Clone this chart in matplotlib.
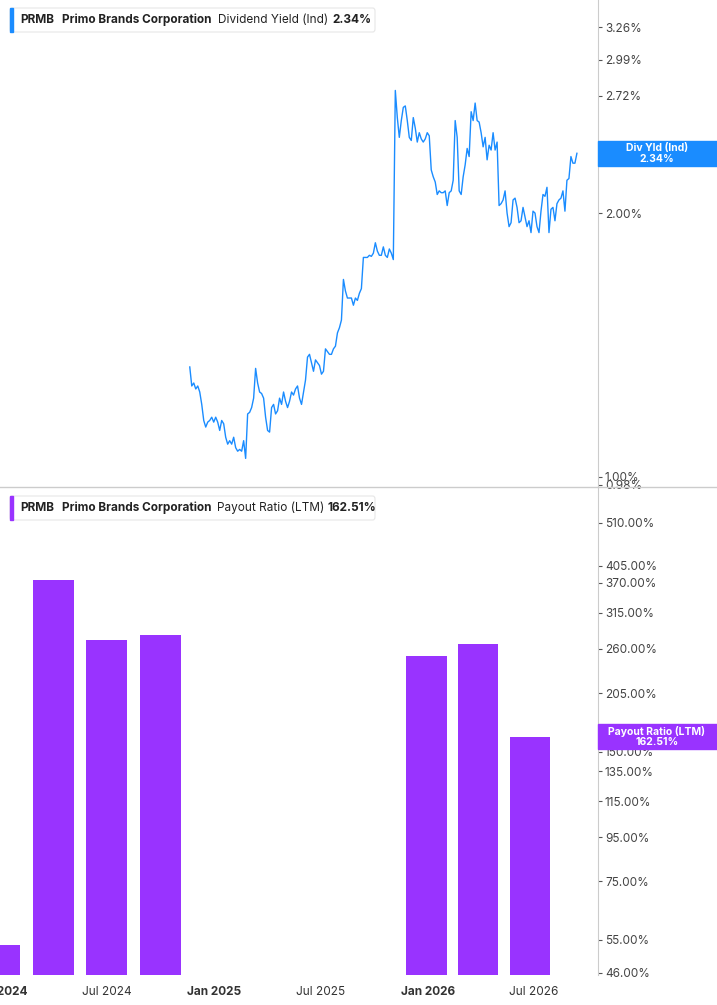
import matplotlib
matplotlib.use("Agg")
import matplotlib.pyplot as plt
import matplotlib.ticker as mticker
import pandas as pd

plt.rcParams['font.family'] = ['Inter', 'DejaVu Sans']

yield_start = "2024-11-20"
yield_end = "2026-09-12"
yield_vals = [1.335,1.27,1.28,1.26,1.27,1.25,1.21,1.16,1.14,1.155,1.16,1.17,1.155,1.17,1.155,1.13,1.16,1.15,
 1.11,1.09,1.10,1.09,1.11,1.08,1.07,1.075,1.07,1.10,1.05,1.18,1.185,1.20,1.23,1.33,1.28,1.25,1.245,1.23,
 1.17,1.13,1.125,1.20,1.21,1.18,1.19,1.23,1.21,1.25,1.22,1.20,1.22,1.25,1.24,1.26,1.27,1.23,1.21,1.25,
 1.29,1.37,1.38,1.35,1.32,1.36,1.35,1.34,1.31,1.32,1.40,1.39,1.38,1.38,1.40,1.41,1.46,1.48,1.51,1.68,
 1.63,1.60,1.60,1.60,1.57,1.60,1.59,1.62,1.64,1.78,1.78,1.78,1.79,1.785,1.80,1.85,1.81,1.79,1.79,1.83,
 1.79,1.78,1.82,1.80,1.77,
 2.76,2.57,2.44,2.55,2.64,2.65,2.55,2.44,2.42,2.57,2.50,2.41,2.47,2.43,2.41,2.43,2.47,2.45,2.24,2.20,
 2.17,2.10,2.12,2.11,2.11,2.12,2.04,2.11,2.12,2.18,2.55,2.44,2.12,2.10,2.20,2.27,2.37,2.32,2.61,2.55,
 2.67,2.55,2.54,2.47,2.38,2.44,2.30,2.39,2.36,2.47,2.36,2.41,2.04,2.05,2.07,2.12,2.00,1.93,1.95,2.07,
 2.08,2.03,1.95,1.96,2.03,1.98,1.93,1.96,1.90,2.01,2.00,1.93,1.90,2.01,2.10,2.09,2.14,1.90,2.02,2.03,
 1.96,2.05,2.07,2.08,2.12,2.01,2.18,2.19,2.32,2.28,2.28,2.34]

bar_dates = ["2023-12-31", "2024-04-01", "2024-07-01", "2024-10-01", "2025-12-29", "2026-03-27", "2026-06-24"]
bar_vals = [53.4, 376, 273, 280, 250, 266, 162.51]

top_ticks = [0.98, 1.00, 2.00, 2.72, 2.99, 3.26]
bot_ticks = [46, 55, 75, 95, 115, 135, 150, 205, 260, 315, 370, 405, 510]
x_ticks = ["2024-01-01", "2024-07-01", "2025-01-01", "2025-07-01", "2026-01-01", "2026-07-01"]
x_labels = ["Jan 2024", "Jul 2024", "Jan 2025", "Jul 2025", "Jan 2026", "Jul 2026"]

BLUE = "#1a8cff"
PURPLE = "#9933ff"
W, H = 717, 1005
fig = plt.figure(figsize=(W/100, H/100), dpi=100)
axR = 598/W
ax1 = fig.add_axes([0, 1-487/H, axR, 487/H])
ax2 = fig.add_axes([0, 1-975/H, axR, (975-487)/H])

xmin, xmax = pd.Timestamp("2024-01-01"), pd.Timestamp("2026-10-18")
dates = pd.date_range(yield_start, yield_end, periods=len(yield_vals))
ax1.plot(dates, yield_vals, color=BLUE, lw=1)
ax1.set_yscale('log')
ax1.set_ylim(0.974, 3.50)
ax2.bar(pd.to_datetime(bar_dates), bar_vals, width=69, color=PURPLE, align='center', zorder=2)
ax2.set_yscale('log')
ax2.set_ylim(45.5, 617)

for ax, ticks in ((ax1, top_ticks), (ax2, bot_ticks)):
    ax.set_xlim(xmin, xmax)
    ax.yaxis.tick_right()
    ax.yaxis.set_major_locator(mticker.FixedLocator(ticks))
    ax.yaxis.set_minor_locator(mticker.NullLocator())
    ax.yaxis.set_major_formatter(mticker.FuncFormatter(lambda v, p: f"{v:.2f}%"))
    ax.tick_params(axis='y', labelsize=8.5, colors="#555555", length=3, pad=2, labelcolor="#444444")
    for s in ("top", "left", "bottom"):
        ax.spines[s].set_visible(False)
    ax.spines['right'].set_color("#cccccc")
    ax.patch.set_alpha(0)

ax1.set_xticks([])
ax2.set_xticks(pd.to_datetime(x_ticks))
ax2.set_xticklabels(x_labels)
ax2.tick_params(axis='x', length=0, labelsize=8.5, pad=8, colors="#333333")
for lbl in ax2.get_xticklabels():
    if lbl.get_text().startswith("Jan"):
        lbl.set_fontweight('bold')

fig.add_artist(plt.Line2D([0, 1], [1-487/H, 1-487/H], color="#cccccc", lw=1))

def legend(y, color, metric, val, mx, vx):
    yy = 1 - y/H
    fig.add_artist(matplotlib.patches.FancyBboxPatch((10/W, yy-12/H), 365/W, 24/H,
        boxstyle="round,pad=0,rounding_size=0.003", fc="white", ec="#e6e6e6", lw=0.8))
    fig.add_artist(matplotlib.patches.Rectangle((10/W, yy-12/H), 3/W, 24/H, color=color))
    fig.text(20/W, yy, "PRMB", fontsize=8.5, fontweight='bold', va='center', color="#222222")
    fig.text(62/W, yy, "Primo Brands Corporation", fontsize=8.5, fontweight='bold', va='center', color="#222222")
    fig.text(mx/W, yy, metric, fontsize=8.5, va='center', color="#222222")
    fig.text(vx/W, yy, val, fontsize=8.5, fontweight='bold', va='center', color="#222222")

legend(20, BLUE, "Dividend Yield (Ind)", "2.34%", 218, 332)
legend(508, PURPLE, "Payout Ratio (LTM)", "162.51%", 217, 328)

def badge(y0, y1, color, text):
    fig.add_artist(matplotlib.patches.Rectangle((598/W, 1-y1/H), 119/W, (y1-y0)/H, color=color, zorder=5))
    fig.text(657/W, 1-(y0+y1)/2/H, text, fontsize=7.5, fontweight='bold', color="white",
             ha='center', va='center', linespacing=1.0, zorder=6)

badge(141, 166, BLUE, "Div Yld (Ind)\n2.34%")
badge(724, 749, PURPLE, "Payout Ratio (LTM)\n162.51%")

fig.savefig("out.png", dpi=100)
